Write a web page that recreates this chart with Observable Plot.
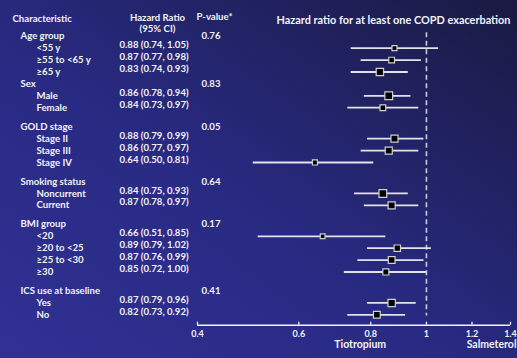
<!DOCTYPE html>
<html><head><meta charset="utf-8">
<script src="https://cdn.jsdelivr.net/npm/d3@7"></script>
<script src="https://cdn.jsdelivr.net/npm/@observablehq/plot@0.6"></script>
<style>
html,body{margin:0;padding:0;}
body{width:517px;height:358px;overflow:hidden;background:linear-gradient(to top right,#303194 0%,#282a82 45%,#1a1a42 100%);}
#chart svg{display:block;}
</style></head><body><div id="chart"></div>
<script>
const groups = ["Age group", "Sex", "GOLD stage", "Smoking status", "BMI group", "ICS use at baseline"];
const pValues = ["0.76", "0.83", "0.05", "0.64", "0.17", "0.41"];
const subgroups = [
  ["<55 y", "≥55 to <65 y", "≥65 y"],
  ["Male", "Female"],
  ["Stage II", "Stage III", "Stage IV"],
  ["Noncurrent", "Current"],
  ["<20", "≥20 to <25", "≥25 to <30", "≥30"],
  ["Yes", "No"]
];
const hazardRatio = [0.88, 0.87, 0.83, 0.86, 0.84, 0.88, 0.86, 0.64, 0.84, 0.87, 0.66, 0.89, 0.87, 0.85, 0.87, 0.82];
const ciLower     = [0.74, 0.77, 0.74, 0.78, 0.73, 0.79, 0.77, 0.50, 0.75, 0.78, 0.51, 0.79, 0.76, 0.72, 0.79, 0.73];
const ciUpper     = [1.05, 0.98, 0.93, 0.94, 0.97, 0.99, 0.97, 0.81, 0.93, 0.97, 0.85, 1.02, 0.99, 1.00, 0.96, 0.92];
const weight      = [25, 32, 53, 59, 32, 49, 49, 25, 59, 49, 22, 40, 45, 36, 53, 45];
const xTicks = [0.4, 0.6, 0.8, 1, 1.2, 1.4];
const xTickLabels = ["0.4", "0.6", "0.8", "1", "1.2", "1.4"];
const colHeaderChar = "Characteristic";
const colHeaderHR = "Hazard Ratio\n(95% CI)";
const colHeaderP = "P-value*";
const title = "Hazard ratio for at least one COPD exacerbation";
const leftLabel = "Tiotropium";
const rightLabel = "Salmeterol";

// Build row layout
const groupRows = [], subRows = [];
let r = -1, k = 0;
groups.forEach((g, i) => {
  if (i > 1) r += 0.6;
  groupRows.push({label: g, p: pValues[i], row: r});
  r++;
  subgroups[i].forEach(s => {
    subRows.push({
      label: s, row: r, hr: hazardRatio[k], lo: ciLower[k], hi: ciUpper[k], w: weight[k],
      text: `${hazardRatio[k].toFixed(2)} (${ciLower[k].toFixed(2)}, ${ciUpper[k].toFixed(2)})`
    });
    k++; r++;
  });
});
const lastRow = subRows[subRows.length - 1].row;
const axisRow = lastRow + 0.87;
const firstRow = groupRows[0].row;

const white = "#f2f2f7";
const fs = 9.6;
const chart = Plot.plot({
  width: 517, height: 358,
  marginLeft: 197, marginRight: 7, marginTop: 47.7, marginBottom: 33.3,
  style: {background: "transparent", color: white, fontFamily: "Lato, sans-serif", fontWeight: 700, fontSize: fs + "px"},
  x: {type: "log", domain: [0.4, 1.4]},
  y: {domain: [0, axisRow], reverse: true, axis: null},
  r: {type: "sqrt", domain: [0, 60], range: [0, 4.4]},
  marks: [
    Plot.ruleX([1], {y1: firstRow - 0.3, y2: lastRow + 0.1, stroke: "#c9c9d8", strokeWidth: 1.6, strokeDasharray: "5,3.5"}),
    Plot.ruleY(subRows, {y: "row", x1: "lo", x2: "hi", stroke: "#e2e2ea", strokeWidth: 1.8}),
    Plot.dot(subRows, {x: "hr", y: "row", r: "w", symbol: "square", fill: "#000", stroke: "#d0d0d0", strokeWidth: 1.2}),
    // table columns
    Plot.text(groupRows, {y: "row", text: "label", frameAnchor: "left", dx: -177, textAnchor: "start", fill: white}),
    Plot.text(groupRows, {y: "row", text: "p", frameAnchor: "left", dx: 4, textAnchor: "start", fill: white}),
    Plot.text(subRows, {y: "row", text: "label", frameAnchor: "left", dx: -161, textAnchor: "start", fill: white}),
    Plot.text(subRows, {y: "row", text: "text", frameAnchor: "left", dx: -78, dy: -3, textAnchor: "start", fill: white}),
    // headers
    Plot.text([colHeaderChar], {frameAnchor: "top-left", dx: -185, dy: -32.7, textAnchor: "start", fill: white}),
    Plot.text([colHeaderHR], {frameAnchor: "top-left", dx: -40, dy: -34.7, textAnchor: "middle", lineHeight: 1.15, fill: white}),
    Plot.text([colHeaderP], {frameAnchor: "top-left", dx: -1, dy: -34.7, textAnchor: "start", fill: white}),
    Plot.text([title], {frameAnchor: "top-right", dx: 0, dy: -31.7, textAnchor: "end", fontSize: 10.9, fill: white}),
    // axis
    Plot.ruleY([axisRow], {stroke: white, strokeWidth: 1.5}),
    Plot.ruleX(xTicks, {x: d => d, y1: axisRow, y2: axisRow - 0.25, stroke: white, strokeWidth: 1.3}),
    Plot.axisX({ticks: xTicks, tickFormat: d => xTickLabels[xTicks.indexOf(d)], tickSize: 0, tickPadding: 5, label: null, fontSize: 9, fill: white}),
    Plot.text([leftLabel], {frameAnchor: "bottom-left", dx: 162.7, dy: 23, textAnchor: "middle", fontSize: 10.5, fill: white}),
    Plot.text([rightLabel], {frameAnchor: "bottom-right", dx: 6, dy: 23, textAnchor: "end", fontSize: 10.5, fill: white})
  ]
});
document.getElementById("chart").appendChild(chart);
</script></body></html>
